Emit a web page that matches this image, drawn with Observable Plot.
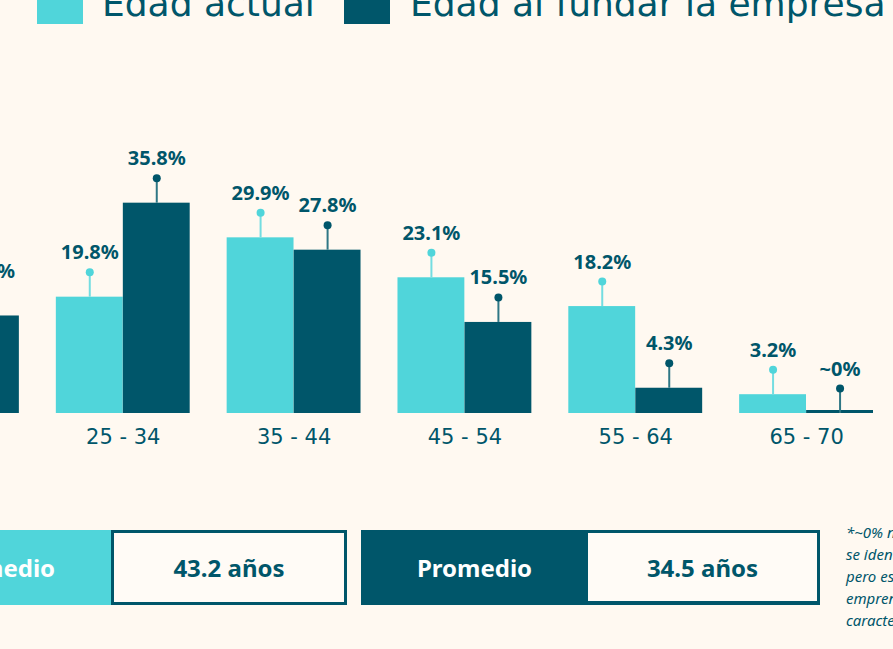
<!DOCTYPE html>
<html>
<head>
<meta charset="utf-8">
<script src="https://cdn.jsdelivr.net/npm/d3@7"></script>
<script src="https://cdn.jsdelivr.net/npm/@observablehq/plot@0.6"></script>
<style>
  html, body { margin: 0; padding: 0; width: 893px; height: 649px; overflow: hidden; background: #fff9f1; }
  body { position: relative; }
  #chart { position: absolute; left: -150px; top: 0; }
  .legend-swatch { position: absolute; width: 46px; height: 46px; top: -22px; }
  .legend-text { position: absolute; top: -14.5px; font: 36px "DejaVu Sans"; line-height: 1; color: #00566a; white-space: nowrap; }
  .box { position: absolute; top: 530px; height: 75px; display: flex; align-items: center; justify-content: center;
         font-family: "Noto Sans"; font-weight: 700; font-size: 24px; box-sizing: border-box; white-space: nowrap; }
  #note { position: absolute; left: 846px; top: 521px; font: italic 15px "Noto Sans"; line-height: 22px; color: #00566a; white-space: nowrap; }
</style>
</head>
<body>
<div id="legend"></div>
<div id="chart"></div>
<div id="boxes"></div>
<div id="note"></div>
<script>
// ---- data ----
const groups = ["18 - 24", "25 - 34", "35 - 44", "45 - 54", "55 - 64", "65 - 70"];
const actualValues = [5.8, 19.8, 29.9, 23.1, 18.2, 3.2];
const fundarValues = [16.6, 35.8, 27.8, 15.5, 4.3, 0];
const seriesNames = ["Edad actual", "Edad al fundar la empresa"];
const averageLabel = "Promedio";
const averages = ["43.2 años", "34.5 años"];
const footnoteLines = [
  "*~0% no significa que no",
  "se identificaron casos,",
  "pero estos son muy pocos",
  "emprendedores con estas",
  "características."
];

// ---- style ----
const light = "#50d5da";
const dark = "#00566a";
const lightStem = "#74dde1";
const darkStem = "#2f7785";
const textColor = "#00566a";

const fmt = v => v === 0 ? "~0%" : v.toFixed(1) + "%";
const actualRows = groups.map((g, i) => ({group: g, series: seriesNames[0], value: actualValues[i], label: fmt(actualValues[i])}));
const fundarRows = groups.map((g, i) => ({group: g, series: seriesNames[1], value: fundarValues[i], label: fmt(fundarValues[i])}));

const half = 67;
const off = 33.5;
const stem = 25;
const labelDy = -44.4;
const labelStyle = {fontSize: 20, fontWeight: 700, fontFamily: "Noto Sans", fill: textColor};

const chart = Plot.plot({
  width: 1050,
  height: 470,
  marginLeft: 35,
  marginRight: 27,
  marginTop: 178,
  marginBottom: 57,
  style: {background: "transparent", maxWidth: "none", fontFamily: "DejaVu Sans", fontSize: "21px", color: textColor},
  x: {domain: groups, paddingInner: 37 / 171, paddingOuter: 0, round: false, tickSize: 0, tickPadding: 16, label: null},
  y: {domain: [0, 40], axis: null},
  marks: [
    Plot.barY(actualRows, {x: "group", y: "value", fill: light, insetRight: half}),
    Plot.barY(fundarRows, {x: "group", y: "value", fill: dark, insetLeft: half}),
    Plot.barY(fundarRows.filter(d => d.value === 0), {x: "group", y: "value", fill: dark, insetLeft: half, insetTop: -3}),
    Plot.ruleX(actualRows, {x: "group", y1: "value", y2: "value", insetBottom: stem, dx: -off, stroke: lightStem, strokeWidth: 2}),
    Plot.ruleX(fundarRows, {x: "group", y1: "value", y2: "value", insetBottom: stem, dx: off, stroke: darkStem, strokeWidth: 2}),
    Plot.dot(actualRows, {x: "group", y: "value", dx: -off, dy: -stem, r: 4, fill: light}),
    Plot.dot(fundarRows, {x: "group", y: "value", dx: off, dy: -stem, r: 4, fill: dark}),
    Plot.text(actualRows, {x: "group", y: "value", text: "label", dx: -off, dy: labelDy, ...labelStyle}),
    Plot.text(fundarRows, {x: "group", y: "value", text: "label", dx: off, dy: labelDy, ...labelStyle})
  ]
});
document.getElementById("chart").appendChild(chart);

// ---- legend ----
const legend = document.getElementById("legend");
[[37, 102, light, seriesNames[0]], [344, 410, dark, seriesNames[1]]].forEach(([sx, tx, c, name]) => {
  const sw = document.createElement("div");
  sw.className = "legend-swatch"; sw.style.left = sx + "px"; sw.style.background = c;
  legend.appendChild(sw);
  const t = document.createElement("div");
  t.className = "legend-text"; t.style.left = tx + "px"; t.textContent = name;
  legend.appendChild(t);
});

// ---- average boxes ----
const boxes = document.getElementById("boxes");
function box(left, width, bg, color, text, extra) {
  const b = document.createElement("div");
  b.className = "box";
  b.style.left = left + "px"; b.style.width = width + "px";
  b.style.background = bg; b.style.color = color;
  if (extra) Object.assign(b.style, extra);
  b.textContent = text;
  boxes.appendChild(b);
  return b;
}
box(-116, 227, light, "#ffffff", averageLabel);
box(111, 236, "#fffbf6", textColor, averages[0], {border: "3.5px solid " + dark});
box(361, 459, dark, "#ffffff", "");
box(361, 227, "transparent", "#ffffff", averageLabel);
box(588, 229, "#fffbf6", textColor, averages[1], {top: "533px", height: "68px"});

// ---- footnote ----
document.getElementById("note").innerHTML = footnoteLines.join("<br>");
</script>
</body>
</html>
